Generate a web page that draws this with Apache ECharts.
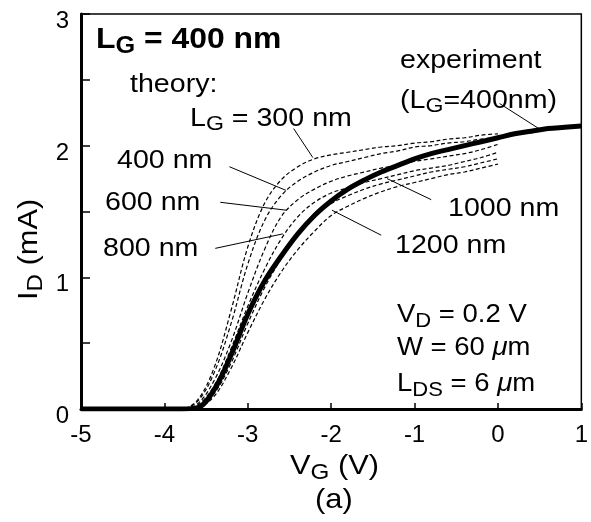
<!DOCTYPE html>
<html>
<head>
<meta charset="utf-8">
<script src="https://cdn.jsdelivr.net/npm/echarts@6/dist/echarts.min.js"></script>
<style>
  html, body { margin: 0; padding: 0; background: #fff; }
  #chart { width: 591px; height: 522px; }
</style>
</head>
<body>
<div id="chart"></div>
<script>
// axis ticks
const xTicks = [-5, -4, -3, -2, -1, 0, 1];
const yTicks = [0, 1, 2, 3];

// experiment, LG = 400 nm
const expX = [-5, -4.0, -3.8, -3.6, -3.4, -3.2, -3.0, -2.8, -2.6, -2.4, -2.2, -2.0, -1.8, -1.6, -1.4, -1.2,
              -1.0, -0.8, -0.6, -0.4, -0.2, 0, 0.2, 0.4, 0.6, 0.8, 1.0];
const expY = [0, 0, 0, 0.01, 0.15, 0.41, 0.72, 0.97, 1.16, 1.33, 1.47, 1.58, 1.67, 1.74, 1.80, 1.85,
              1.90, 1.94, 1.97, 2.00, 2.03, 2.06, 2.09, 2.11, 2.13, 2.14, 2.15];

// theory curves, one per gate length
const theoryX = [-5, -4.0, -3.8, -3.6, -3.4, -3.2, -3.0, -2.8, -2.6, -2.4, -2.2, -2.0, -1.8, -1.6, -1.4, -1.2, -1.0, -0.8, -0.6, -0.4, -0.2, 0];
const lg300  = [0, 0, 0, 0.07, 0.32, 0.75, 1.23, 1.56, 1.74, 1.84, 1.90, 1.93, 1.95, 1.97, 1.99, 2.00, 2.02, 2.03, 2.05, 2.06, 2.08, 2.09];
const lg400  = [0, 0, 0, 0.06, 0.28, 0.65, 1.10, 1.43, 1.62, 1.73, 1.80, 1.85, 1.88, 1.91, 1.94, 1.96, 1.99, 2.00, 2.02, 2.03, 2.05, 2.06];
const lg600  = [0, 0, 0, 0.04, 0.22, 0.51, 0.88, 1.21, 1.46, 1.59, 1.67, 1.73, 1.77, 1.80, 1.83, 1.85, 1.88, 1.90, 1.92, 1.94, 1.97, 2.01];
const lg800  = [0, 0, 0, 0.03, 0.18, 0.46, 0.78, 1.06, 1.29, 1.46, 1.57, 1.64, 1.68, 1.72, 1.75, 1.78, 1.81, 1.83, 1.85, 1.88, 1.91, 1.95];
const lg1000 = [0, 0, 0, 0.01, 0.12, 0.35, 0.65, 0.92, 1.14, 1.32, 1.46, 1.56, 1.62, 1.67, 1.71, 1.74, 1.77, 1.80, 1.82, 1.84, 1.87, 1.90];
const lg1200 = [0, 0, 0, 0.01, 0.10, 0.31, 0.58, 0.83, 1.04, 1.21, 1.35, 1.47, 1.54, 1.60, 1.65, 1.69, 1.72, 1.75, 1.78, 1.80, 1.83, 1.86];
const theoryCurves = [lg300, lg400, lg600, lg800, lg1000, lg1200];

// leader lines, [from, to] in data coordinates
const leaders = [
  [[-2.45, 2.13], [-2.22, 1.91]],  // 300 nm
  [[-3.22, 1.84], [-2.54, 1.66]],  // 400 nm
  [[-3.33, 1.57], [-2.54, 1.51]],  // 600 nm
  [[-3.39, 1.22], [-2.58, 1.33]],  // 800 nm
  [[-1.33, 1.75], [-0.80, 1.59]],  // 1000 nm
  [[-1.99, 1.51], [-1.40, 1.32]],  // 1200 nm
  [[0.02, 2.32], [0.49, 2.13]]     // experiment
];

const FONT = "'Liberation Sans', Arial, Helvetica, sans-serif";

function pair(xs, ys) {
  return xs.map((x, i) => [x, ys[i]]);
}

const chart = echarts.init(document.getElementById('chart'));

const series = theoryCurves.map(c => ({
  type: 'line',
  data: pair(theoryX, c),
  showSymbol: false,
  smooth: 0.35,
  lineStyle: { color: '#000', width: 1.2, type: [4, 2.5] },
  z: 2
}));
series.push({
  type: 'line',
  data: pair(expX, expY),
  showSymbol: false,
  smooth: 0.35,
  lineStyle: { color: '#000', width: 5 },
  z: 3
});

chart.setOption({
  animation: false,
  backgroundColor: '#fff',
  grid: {
    left: 81, right: 1, top: 14, bottom: 113,
    show: true, borderColor: '#000', borderWidth: 1.5
  },
  xAxis: {
    type: 'value',
    min: xTicks[0], max: xTicks[xTicks.length - 1], interval: 1,
    axisLine: { onZero: false, lineStyle: { color: '#000', width: 3 } },
    axisTick: { inside: true, length: 6, lineStyle: { color: '#000', width: 1.5 } },
    axisLabel: { color: '#000', fontSize: 24, fontFamily: FONT, margin: 14 },
    splitLine: { show: false }
  },
  yAxis: {
    type: 'value',
    min: yTicks[0], max: yTicks[yTicks.length - 1], interval: 1,
    axisLine: { show: true, onZero: false, lineStyle: { color: '#000', width: 3 } },
    axisTick: { inside: true, length: 9, lineStyle: { color: '#000', width: 1.5 } },
    minorTick: { show: true, splitNumber: 2, length: 9, lineStyle: { color: '#000', width: 1.5 } },
    axisLabel: { color: '#000', fontSize: 24, fontFamily: FONT, margin: 12,
                 verticalAlign: 'top', lineHeight: 15 },
    splitLine: { show: false }
  },
  series: series
});

// text annotations
function label(x, y, text, size, extra) {
  const bold = extra && extra.bold ? 'bold' : 'normal';
  return Object.assign({
    type: 'text', x: x, y: y, scaleX: 1.1, z: 10,
    style: {
      text: text, fill: '#000', fontSize: size, fontFamily: FONT, fontWeight: bold,
      verticalAlign: 'top',
      rich: {
        s: { fontSize: Math.round(size * 0.8), fontFamily: FONT, fontWeight: bold, padding: [Math.round(size * 0.45), 0, 0, 0] },
        i: { fontSize: size, fontFamily: FONT, fontStyle: 'italic', fontWeight: bold }
      }
    }
  }, extra && extra.el);
}

const texts = [
  label(96, 22, 'L{s|G} = 400 nm', 29, { bold: true }),
  label(130, 72, 'theory:', 26),
  label(190, 102, 'L{s|G} = 300 nm', 26),
  label(117, 148, '400 nm', 26),
  label(105, 190, '600 nm', 26),
  label(103, 236, '800 nm', 26),
  label(400, 48, 'experiment', 26),
  label(400, 84, '(L{s|G}=400nm)', 26),
  label(448, 196, '1000 nm', 26),
  label(395, 233, '1200 nm', 26),
  label(397, 300, 'V{s|D} = 0.2 V', 25),
  label(397, 336, 'W = 60 {i|μ}m', 25),
  label(397, 369, 'L{s|DS} = 6 {i|μ}m', 25),
  label(290, 449, 'V{s|G} (V)', 28),
  label(315, 486, '(a)', 28),
  label(12, 300, 'I{s|D} (mA)', 28, { el: { rotation: Math.PI / 2 } })
];

const lines = leaders.map(l => {
  const a = chart.convertToPixel({ gridIndex: 0 }, l[0]);
  const b = chart.convertToPixel({ gridIndex: 0 }, l[1]);
  return {
    type: 'line', z: 9,
    shape: { x1: a[0], y1: a[1], x2: b[0], y2: b[1] },
    style: { stroke: '#000', lineWidth: 1 }
  };
});

chart.setOption({ graphic: texts.concat(lines) });
</script>
</body>
</html>
